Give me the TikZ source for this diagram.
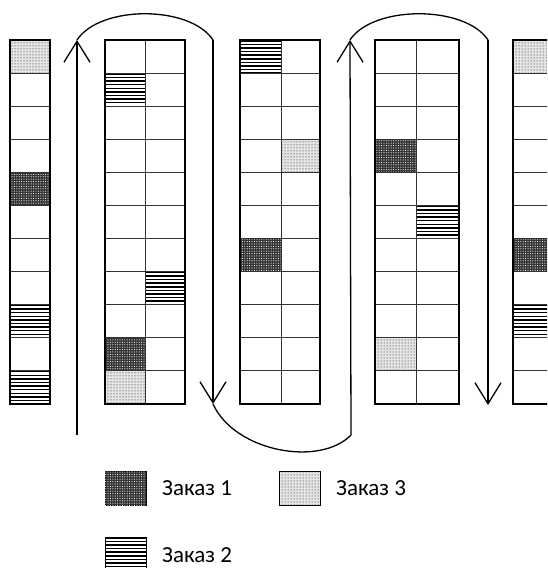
\documentclass[tikz,border=0pt]{standalone}
\usepackage{fontspec}
\setmainfont{Carlito}
\usetikzlibrary{arrows.meta, patterns.meta}
\tikzset{
    rack/.style={draw, line width=1.6pt},
    cellline/.style={draw, line width=0.9pt, black!80},
    order1/.style={fill=black!80, postaction={pattern color=white, pattern={Dots[distance=2.4pt, radius=0.55pt]}}},
    order2/.style={fill=white, path picture={
        \foreach \k in {0,...,9}
            \draw[line width=1.5pt] ([yshift=-\k*3.6pt-0.8pt]path picture bounding box.north west)
                -- ([yshift=-\k*3.6pt-0.8pt]path picture bounding box.north east);}},
    order3/.style={fill=black!10, postaction={pattern color=black, pattern={Dots[distance=3pt, radius=0.5pt]}}},
    route/.style={draw, line width=1.3pt},
    routetip/.style={route, -{Straight Barb[length=21pt, width=26pt]}},
    legbox/.style={draw, line width=1pt, minimum width=41pt, minimum height=34pt, inner sep=0pt},
    legtext/.style={font=\fontsize{23}{25}\selectfont, anchor=west, inner sep=0pt}
}
% one storage bay: x from, x to, row, style
\newcommand{\bay}[4]{\path[#4] (#1,{40+33.09*(#3-1)}) rectangle (#2,{40+33.09*#3});}
% grid of a rack: left, middle, right
\newcommand{\rackgrid}[3]{%
    \foreach \r in {1,...,10} \draw[cellline] (#1,{40+33.09*\r}) -- (#3,{40+33.09*\r});
    \draw[cellline] (#2,40) -- (#2,404);
    \draw[rack] (#1,40) rectangle (#3,404);
}

\begin{document}
\begin{tikzpicture}[x=1pt, y=-1pt]
\useasboundingbox (0,0) rectangle (547,568);
\clip (0,0) rectangle (547,568);

% Filled bays
\bay{10}{50}{1}{order3}
\bay{10}{50}{5}{order1}
\bay{10}{50}{9}{order2}
\bay{10}{50}{11}{order2}

\bay{105}{145}{2}{order2}
\bay{145}{185}{8}{order2}
\bay{105}{145}{10}{order1}
\bay{105}{145}{11}{order3}

\bay{240}{281}{1}{order2}
\bay{281}{320}{4}{order3}
\bay{240}{281}{7}{order1}

\bay{375}{416}{4}{order1}
\bay{416}{459}{6}{order2}
\bay{375}{416}{10}{order3}

\bay{513}{560}{1}{order3}
\bay{513}{560}{7}{order1}
\bay{513}{560}{9}{order2}

% Racks
\foreach \r in {1,...,10} \draw[cellline] (10,{40+33.09*\r}) -- (50,{40+33.09*\r});
\draw[rack] (10,40) rectangle (50,404);
\rackgrid{105}{145}{185}
\rackgrid{240}{281}{320}
\rackgrid{375}{416}{459}
\foreach \r in {1,...,10} \draw[cellline] (513,{40+33.09*\r}) -- (560,{40+33.09*\r});
\draw[rack] (513,40) rectangle (560,404);

% Picking route
\coordinate (p1) at (77,435);
\coordinate (p2) at (77,40);
\coordinate (p3) at (213,40);
\coordinate (p4) at (213,404);
\coordinate (p5) at (351,435);
\coordinate (p6) at (350,40);
\coordinate (p7) at (488,40);
\coordinate (p8) at (488,405);

\draw[routetip] (p1) -- (p2);
\draw[route] (p2) .. controls (100,5) and (190,5) .. (p3);
\draw[routetip] (p3) -- (p4);
\draw[route] (p4) .. controls (235,452) and (320,467) .. (p5);
\draw[routetip] (p5) -- (p6);
\draw[route] (p6) .. controls (373,5) and (465,5) .. (p7);
\draw[routetip] (p7) -- (p8);

% Legend
\node[legbox, order1] (k1) at (125.5,488) {};
\node[legtext] (t1) at (162,488) {Заказ 1};
\node[legbox, order3] (k3) at (299.5,488) {};
\node[legtext] (t3) at (336,488) {Заказ 3};
\node[legbox, order2] (k2) at (125.5,554) {};
\node[legtext] (t2) at (162,555) {Заказ 2};
\end{tikzpicture}
\end{document}
